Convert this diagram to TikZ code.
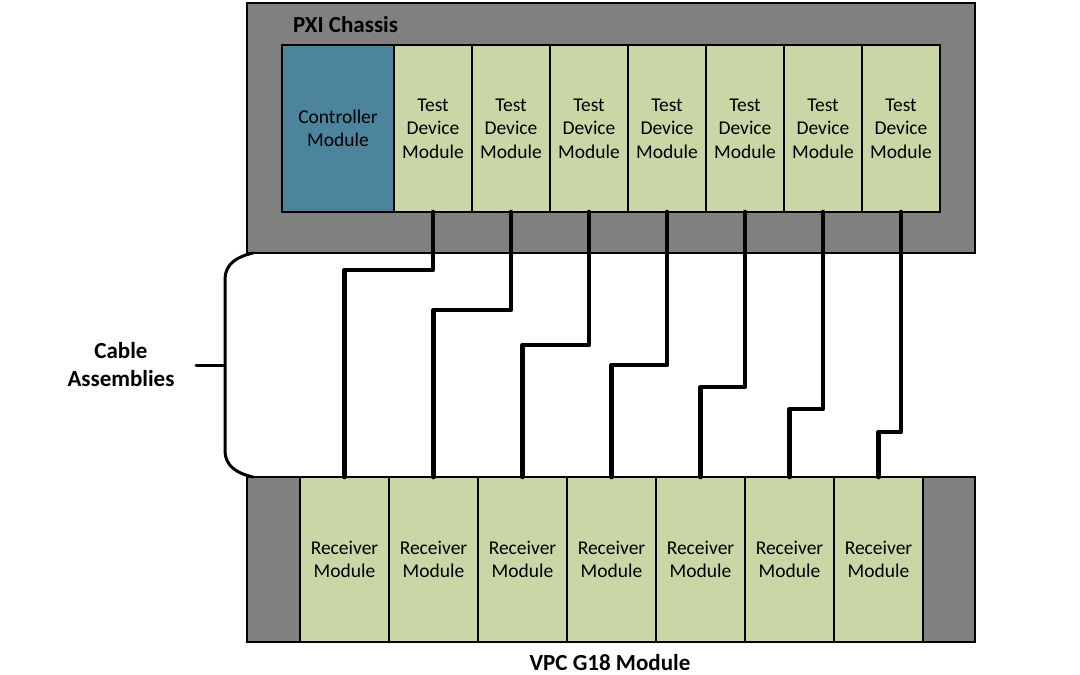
\documentclass[tikz,border=0pt]{standalone}
\usepackage{fontspec}
\setmainfont{Carlito}
\definecolor{chgrey}{HTML}{808080}
\definecolor{modgreen}{HTML}{C9D6A6}
\definecolor{ctrlblue}{HTML}{4B849C}
\begin{document}
\begin{tikzpicture}[x=1pt,y=-1pt,
  box/.style={draw=black, line width=1.4pt, inner sep=0pt, outer sep=0pt, anchor=north west},
  chassis/.style={box, fill=chgrey},
  mod/.style={box, fill=modgreen, align=center, font=\fontsize{19.5}{23.5}\selectfont},
  testmod/.style={mod, minimum width=78pt, minimum height=167pt},
  recvmod/.style={mod, minimum width=89pt, minimum height=165pt},
  ctrl/.style={mod, fill=ctrlblue, minimum width=112pt, minimum height=167pt},
  title/.style={font=\bfseries\fontsize{23}{28}\selectfont, inner sep=0pt},
  label/.style={title, align=center},
  cable/.style={line width=4.6pt, line cap=round, line join=round},
  brace/.style={line width=3pt, line cap=round}
]
\useasboundingbox (0,0) rectangle (1080,675);
% top chassis
\node[chassis, minimum width=728pt, minimum height=250pt] (pxi) at (247,3) {};
\node[title, anchor=base west] (pxil) at (293,32) {PXI Chassis};
\node[ctrl] (c) at (282,45) {Controller\\Module};
\foreach \i in {1,...,7}{
  \node[testmod] (t\i) at ({394+78*(\i-1)},45) {Test\\Device\\Module};
}
% bottom chassis
\node[chassis, minimum width=728pt, minimum height=165pt] (vpc) at (247,477) {};
\foreach \i in {1,...,7}{
  \node[recvmod] (r\i) at ({300+89*(\i-1)},477) {Receiver\\Module};
}
\node[title, anchor=base] (vpcl) at (610,670) {VPC G18 Module};
% cables
\foreach \i/\h in {1/270,2/310,3/345,4/365,5/387,6/409,7/432}{
  \draw[cable] (t\i.south) -- (t\i.south |- 0,\h) -| (r\i.north);
}
% brace
\coordinate (bt) at (253,253);
\coordinate (bb) at (253,477);
\coordinate (bm) at (225,365);
\coordinate (bk) at (196,365);
\draw[brace] (bt) .. controls (236,257) and (226,264) .. (225,278) -- (225,452) .. controls (226,466) and (236,473) .. (bb);
\draw[brace] (bk) -- (bm);
\node[label] (cab) at (121,365) {Cable\\Assemblies};
\end{tikzpicture}
\end{document}
